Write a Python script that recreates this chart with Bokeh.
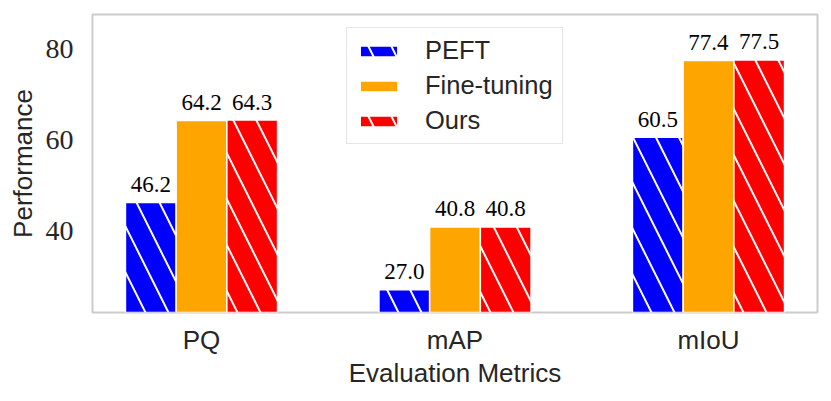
from bokeh.plotting import figure
from bokeh.models import ColumnDataSource, FixedTicker, Range1d, Legend, LegendItem
from bokeh.core.properties import value
from bokeh.embed import file_html
from bokeh.resources import INLINE

categories = ["PQ", "mAP", "mIoU"]
series_names = ["PEFT", "Fine-tuning", "Ours"]
peft = [46.2, 27.0, 60.5]
finetune = [64.2, 40.8, 77.4]
ours = [64.3, 40.8, 77.5]
y_ticks = [40, 60, 80]

colors = ["#0000ff", "#ffa500", "#ff0000"]
hatches = ["\\", " ", "\\"]
offsets = [-0.2, 0.0, 0.2]
bar_w = 0.2

SANS = "Liberation Sans"
SERIF = "Liberation Serif"
TXT = "#262626"

p = figure(width=831, height=401, output_backend="svg", toolbar_location=None,
           x_range=Range1d(-0.43, 2.43), y_range=Range1d(22, 87.5),
           min_border_left=92, min_border_right=14, min_border_top=14, min_border_bottom=89)

p.xgrid.visible = False
p.ygrid.visible = False
p.outline_line_color = "#cccccc"
p.outline_line_width = 2
p.background_fill_color = "white"
p.border_fill_color = "white"

renderers = []
for vals, name, col, h, off in zip([peft, finetune, ours], series_names, colors, hatches, offsets):
    src = ColumnDataSource(dict(x=[i + off for i in range(len(categories))], top=vals,
                                lab=["%.1f" % v for v in vals]))
    r = p.vbar(x="x", top="top", bottom=0, width=bar_w, source=src, fill_color=col,
               line_color="white", line_width=1.5,
               hatch_pattern=h, hatch_color="white", hatch_scale=46, hatch_weight=2)
    renderers.append((name, r))
    p.text(x="x", y="top", text="lab", source=src, text_align="center",
           text_baseline="alphabetic", y_offset=-18, text_font=value(SERIF),
           text_font_size="23px", text_color="black")

legend = Legend(items=[LegendItem(label=n, renderers=[r]) for n, r in renderers],
                location=(254, 168), orientation="vertical")
legend.label_text_font = SANS
legend.label_text_font_size = "25.5px"
legend.label_text_color = TXT
legend.glyph_width = 47
legend.glyph_height = 14
legend.label_height = 27
legend.label_width = 129
legend.label_standoff = 23
legend.spacing = 6
legend.padding = 8
legend.margin = 0
legend.border_line_color = "#cccccc"
legend.border_line_width = 1.5
legend.background_fill_alpha = 1.0
p.add_layout(legend)

xa = p.xaxis[0]
xa.ticker = FixedTicker(ticks=list(range(len(categories))))
xa.major_label_overrides = {i: c for i, c in enumerate(categories)}
xa.axis_label = "Evaluation Metrics"
ya = p.yaxis[0]
ya.ticker = FixedTicker(ticks=y_ticks)
ya.axis_label = "Performance"

for ax in (xa, ya):
    ax.axis_line_color = None
    ax.major_tick_line_color = None
    ax.minor_tick_line_color = None
    ax.major_tick_out = 0
    ax.major_tick_in = 0
    ax.axis_label_text_font = SANS
    ax.axis_label_text_font_style = "normal"
    ax.axis_label_text_font_size = "26px"
    ax.axis_label_text_color = TXT
    ax.major_label_text_color = TXT

xa.major_label_text_font = SANS
xa.major_label_text_font_size = "26px"
xa.major_label_standoff = 12
xa.axis_label_standoff = 0
ya.major_label_text_font = SERIF
ya.major_label_text_font_size = "28px"
ya.major_label_standoff = 19
ya.axis_label_standoff = 5

open("out.html", "w").write(file_html(p, INLINE))
